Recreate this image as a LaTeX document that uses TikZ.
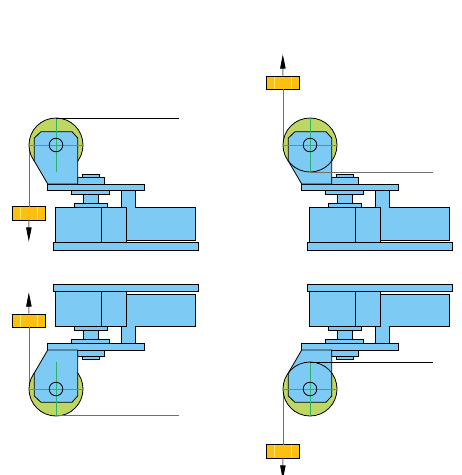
\documentclass[tikz,border=0pt]{standalone}
\usetikzlibrary{arrows.meta}
\definecolor{partblue}{HTML}{7DCBF5}
\definecolor{wheelgreen}{HTML}{BDD762}
\definecolor{weightyellow}{HTML}{FDC010}
\definecolor{glint}{HTML}{FFEE70}
\definecolor{axisgreen}{HTML}{2CB36B}
\definecolor{ropegray}{HTML}{707070}
\tikzset{
  part/.style={draw=black,fill=partblue,line width=0.8pt,line join=miter},
  wheelfill/.style={fill=wheelgreen},
  wheelline/.style={draw=black,line width=0.8pt},
  axisline/.style={draw=axisgreen,line width=1pt},
  rope/.style={draw=ropegray,line width=0.9pt},
  weightbox/.style={draw=black,fill=weightyellow,line width=0.8pt,minimum width=32.6pt,minimum height=13.3pt,inner sep=0pt,outer sep=0pt},
  glintline/.style={draw=glint,line width=0.7pt},
  droptip/.style={-{Triangle[length=14.4pt,width=5.4pt,color=black,fill=black]}},
}
% #1 name, #2 weight y, #3 tip y, #4 bracket over wheel (0) or outline over (1), #5 tangent y, #6 tangent colour
\newcommand{\assembly}[6]{
  \coordinate (hub#1) at (56,145);
  \coordinate (ropetop#1) at (28.8,145);
  \coordinate (tip#1) at (28.8,#3);
  \coordinate (tanA#1) at (56,#5);
  \coordinate (tanB#1) at (178.7,#5);
  % rope and load
  \node[weightbox] (weight#1) at (29,#2) {};
  \draw[rope] (ropetop#1) -- (weight#1.center |- ropetop#1) -- (weight#1);
  \draw[rope,droptip] (weight#1) -- (tip#1);
  \draw[glintline] ([xshift=-8.3pt,yshift=-6pt]weight#1.center) -- ([xshift=-8.3pt,yshift=6pt]weight#1.center);
  \draw[glintline] ([xshift=8.3pt,yshift=-6pt]weight#1.center) -- ([xshift=8.3pt,yshift=6pt]weight#1.center);
  % drive unit
  \draw[part] (121.7,207.3) -- (121.7,190.7) -- (135,190.7) -- (135,207.3) -- (195.3,207.3) -- (195.3,240) -- (126.7,240) -- (126.7,207.3) -- cycle;
  \draw[part] (55.7,207.3) rectangle (101.7,242.7);
  \draw[part] (101.7,207.3) rectangle (126.7,242.7);
  \draw[part] (53.3,242.7) rectangle (198.3,250);
  \draw[part] (74.3,203.7) rectangle (107.3,207.3);
  \draw[part] (83,194.3) rectangle (98.7,203.7);
  \draw[part] (71.7,190.7) rectangle (109.7,194.3);
  \draw[part] (82.3,174.3) rectangle (99.7,177.3);
  \draw[part] (77.7,177.3) rectangle (104.3,184);
  \draw[part] (47.7,184) rectangle (144.3,190.7);
  % wheel and bracket
  \fill[wheelfill] (hub#1) circle (27);
  \ifnum#4=0 \draw[wheelline] (hub#1) circle (27); \fi
  \draw[part] (34.3,138) -- (41,131.7) -- (72,131.7) -- (77.7,138) -- (77.7,184) -- (47.7,184) -- (34.3,161) -- cycle;
  \ifnum#4=1 \draw[wheelline] (hub#1) circle (27); \fi
  \draw[axisline] (29,145) -- (83,145);
  \draw[axisline] (56,118) -- (56,172);
  \draw[wheelline] (hub#1) circle (6.8);
  \draw[draw=#6,line width=0.8pt] (tanA#1) -- (tanB#1);
}
\begin{document}
\begin{tikzpicture}[x=1pt,y=-1pt]
\useasboundingbox[fill=white] (0,0) rectangle (462,475);
\clip (0,0) rectangle (462,475);
\assembly{a}{213.3}{241.7}{0}{118.3}{black}
\begin{scope}[xshift=254pt]
\assembly{b}{82.7}{54.3}{1}{172}{ropegray}
\end{scope}
\begin{scope}[yshift=-534pt,yscale=-1]
\assembly{c}{213.3}{241.7}{0}{118.3}{ropegray}
\end{scope}
\begin{scope}[xshift=254pt,yshift=-534pt,yscale=-1]
\assembly{d}{82.7}{54.3}{1}{172}{black}
\end{scope}
\end{tikzpicture}
\end{document}
